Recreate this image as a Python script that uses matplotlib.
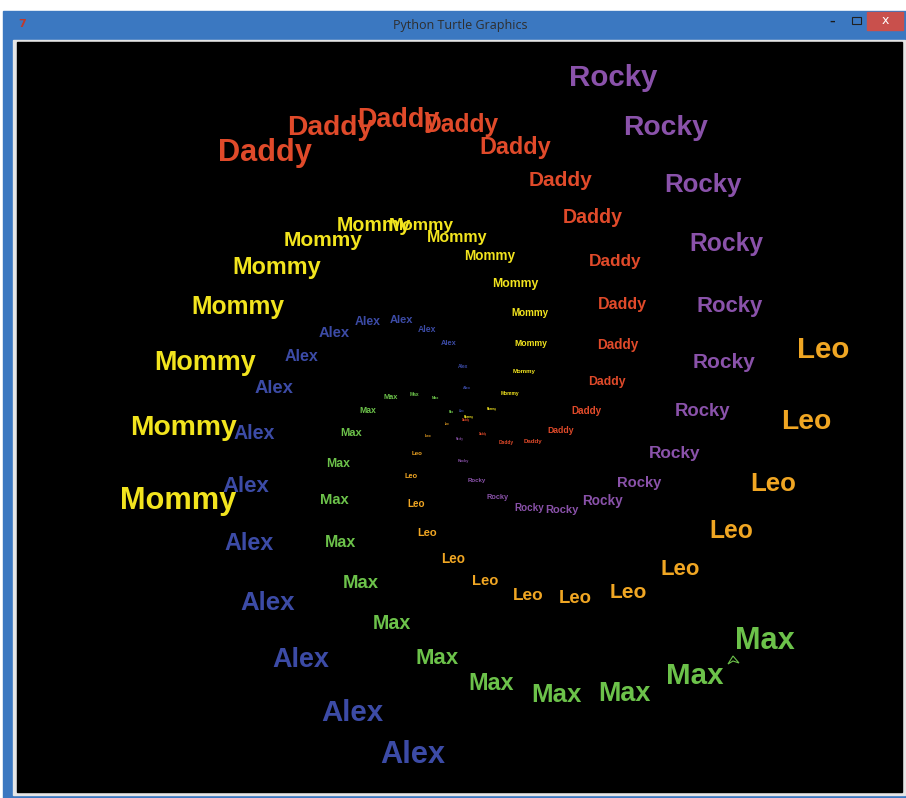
import matplotlib.pyplot as plt
from matplotlib.patches import Rectangle, Polygon

# names and colours used by the spiral
names = ['Daddy', 'Mommy', 'Alex', 'Max', 'Leo', 'Rocky']
colors = ['#e04a2a', '#f2e41e', '#3c4ba6', '#6cc24a', '#f0a623', '#8a52aa']

# text centres (pixels), outer -> inner, plus turtle font size
daddy_x = [265, 330, 398, 461, 515, 560, 593, 615, 622, 618, 607, 586, 561, 533, 506, 483, 466]
daddy_y = [150, 125, 117, 123, 145, 178, 216, 260, 303, 344, 381, 410, 430, 441, 442, 434, 420]
daddy_size = [25, 23, 22, 20, 19, 17, 16, 14, 13, 11, 10, 8, 7, 5, 4, 2, 1]

mommy_x = [178, 183, 205, 238, 277, 323, 374, 421, 457, 490, 515, 530, 531, 524, 510, 492, 469]
mommy_y = [498, 425, 360, 305, 265, 238, 224, 224, 236, 255, 283, 312, 343, 371, 393, 409, 417]
mommy_size = [25, 23, 22, 20, 19, 17, 16, 14, 13, 11, 10, 8, 7, 5, 4, 2, 1]

alex_x = [413, 352, 301, 268, 249, 246, 254, 274, 301, 334, 368, 401, 427, 449, 463, 467, 462]
alex_y = [752, 710, 657, 600, 541, 484, 432, 387, 355, 332, 321, 319, 329, 343, 366, 388, 411]
alex_size = [25, 24, 22, 21, 19, 18, 16, 15, 13, 12, 10, 9, 7, 6, 4, 3, 1]

max_x = [765, 695, 624, 556, 491, 437, 392, 361, 340, 334, 338, 351, 368, 391, 414, 435, 451]
max_y = [638, 673, 691, 692, 681, 656, 622, 582, 541, 499, 463, 432, 410, 397, 394, 398, 412]
max_size = [25, 24, 22, 21, 19, 18, 16, 15, 13, 12, 10, 9, 7, 6, 4, 3, 1]

leo_x = [823, 806, 773, 731, 680, 628, 575, 528, 485, 453, 427, 416, 411, 417, 428, 447]
leo_y = [347, 419, 481, 529, 567, 590, 597, 594, 580, 558, 532, 503, 476, 453, 436, 424]
leo_size = [24, 23, 21, 20, 18, 17, 15, 14, 12, 11, 9, 8, 6, 5, 3, 2]

rocky_x = [613, 666, 703, 726, 730, 724, 702, 675, 639, 602, 562, 529, 498, 477, 463, 460]
rocky_y = [75, 125, 182, 242, 304, 360, 410, 452, 482, 500, 509, 507, 497, 480, 461, 439]
rocky_size = [24, 23, 21, 20, 18, 17, 15, 14, 12, 11, 9, 8, 6, 5, 3, 2]

W, H = 906, 798
fig = plt.figure(figsize=(W / 100, H / 100), dpi=100)
fig.patch.set_facecolor('white')
ax = fig.add_axes([0, 0, 1, 1])
ax.set_xlim(0, W)
ax.set_ylim(H, 0)
ax.axis('off')

# window frame
ax.add_patch(Rectangle((3, 11), 903, 787, color='#3b78c1', zorder=0))
ax.add_patch(Rectangle((13, 40), 892, 755, color='#e6e6e6', zorder=0))
ax.add_patch(Rectangle((17, 42), 885, 750, color='black', zorder=0))
ax.add_patch(Rectangle((867, 12), 36, 18, color='#c9504c', zorder=1))
ax.text(885, 21, 'x', color='white', fontsize=9, ha='center', va='center',
        family='DejaVu Sans')
ax.text(832, 22, '–', color='#1a1a1a', fontsize=8, ha='center', va='center',
        family='DejaVu Sans', fontweight='bold')
ax.add_patch(Rectangle((852, 17), 9, 7, fill=False, ec='#202020', lw=0.8, zorder=1))
ax.text(22, 24, '7', color='#c0392b', fontsize=8, ha='center', va='center',
        family='DejaVu Sans', fontweight='bold')
ax.text(460, 25, 'Python Turtle Graphics', color='#2e2e2e', fontsize=9,
        ha='center', va='center', family='Open Sans')


def draw_name(label, color, xs, ys, sizes):
    for x, y, s in zip(xs, ys, sizes):
        px = max(1.23 * s, 2.6)
        # small nudge down: centre of the ink rather than of the line box
        ax.text(x, y + 0.1 * px, label, color=color, fontsize=px * 0.72,
                ha='center', va='center', family='Liberation Sans',
                fontweight='bold', zorder=2 + s)


draw_name(names[0], colors[0], daddy_x, daddy_y, daddy_size)
draw_name(names[1], colors[1], mommy_x, mommy_y, mommy_size)
draw_name(names[2], colors[2], alex_x, alex_y, alex_size)
draw_name(names[3], colors[3], max_x, max_y, max_size)
draw_name(names[4], colors[4], leo_x, leo_y, leo_size)
draw_name(names[5], colors[5], rocky_x, rocky_y, rocky_size)

# the turtle itself
ax.add_patch(Polygon([(733, 656), (728, 664), (733, 661), (739, 663)],
                     closed=True, fc='black', ec=colors[3], lw=0.8, zorder=40))

fig.savefig('out.png', dpi=100, facecolor=fig.get_facecolor())
